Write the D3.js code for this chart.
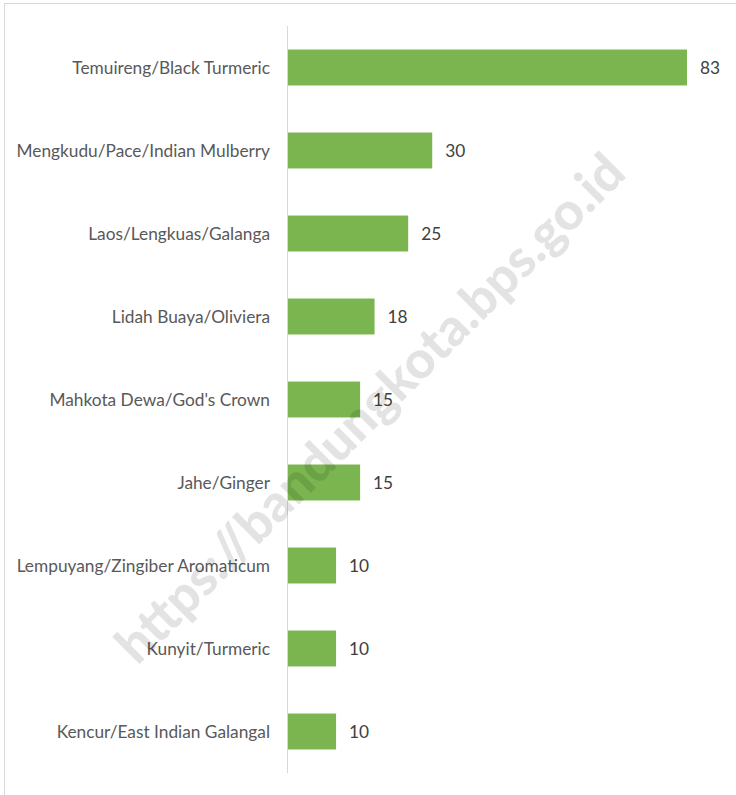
<!DOCTYPE html>
<html>
<head>
<meta charset="utf-8">
<script src="https://cdn.jsdelivr.net/npm/d3@7"></script>
<style>
  body { margin: 0; background: #fff; }
  text { font-family: Lato, "Open Sans", sans-serif; }
</style>
</head>
<body>
<div id="chart"></div>
<script>
var width = 736;
var height = 795;

var categories = [
	"Temuireng/Black Turmeric",
	"Mengkudu/Pace/Indian Mulberry",
	"Laos/Lengkuas/Galanga",
	"Lidah Buaya/Oliviera",
	"Mahkota Dewa/God's Crown",
	"Jahe/Ginger",
	"Lempuyang/Zingiber Aromaticum",
	"Kunyit/Turmeric",
	"Kencur/East Indian Galangal"
];
var values = [83, 30, 25, 18, 15, 15, 10, 10, 10];
var watermark = "https://bandungkota.bps.go.id";

var svg = d3.select("#chart").append("svg")
	.attr("width", width)
	.attr("height", height);

// outer frame
svg.append("rect")
	.attr("x", 4.5)
	.attr("y", 3.5)
	.attr("width", width + 10)
	.attr("height", height + 10)
	.attr("fill", "none")
	.attr("stroke", "#d9d9d9");

var x = d3.scaleLinear()
	.domain([0, 83])
	.range([288, 687]);

var y = d3.scaleBand()
	.domain(categories)
	.range([26, 773])
	.paddingInner(0.567)
	.paddingOuter(0.2835);

var rows = categories.map(function(c, i) {
	return {name: c, value: values[i]};
});

svg.selectAll("rect.bar")
	.data(rows)
	.enter()
	.append("rect")
	.attr("class", "bar")
	.attr("x", x(0))
	.attr("y", function(d) { return y(d.name); })
	.attr("width", function(d) { return x(d.value) - x(0); })
	.attr("height", y.bandwidth())
	.attr("fill", "#7ab54f");

// category axis line
svg.append("line")
	.attr("x1", x(0) - 0.5)
	.attr("x2", x(0) - 0.5)
	.attr("y1", 26)
	.attr("y2", 773)
	.attr("stroke", "#d9d9d9");

svg.selectAll("text.cat")
	.data(rows)
	.enter()
	.append("text")
	.attr("class", "cat")
	.attr("x", 270)
	.attr("y", function(d) { return y(d.name) + y.bandwidth() / 2; })
	.attr("dy", "0.35em")
	.attr("text-anchor", "end")
	.attr("font-size", 17.3)
	.attr("fill", "#595959")
	.text(function(d) { return d.name; });

svg.selectAll("text.val")
	.data(rows)
	.enter()
	.append("text")
	.attr("class", "val")
	.attr("x", function(d) { return x(d.value) + 13; })
	.attr("y", function(d) { return y(d.name) + y.bandwidth() / 2; })
	.attr("dy", "0.35em")
	.attr("font-size", 17.3)
	.attr("fill", "#404040")
	.text(function(d) { return d.value; });

// watermark
svg.append("text")
	.attr("transform", "translate(370,408) rotate(-45)")
	.attr("text-anchor", "middle")
	.attr("dy", "0.35em")
	.attr("font-family", "Lato, sans-serif")
	.attr("font-weight", 900)
	.attr("font-size", 52)
	.attr("fill", "rgba(0,0,0,0.11)")
	.text(watermark);
</script>
</body>
</html>
